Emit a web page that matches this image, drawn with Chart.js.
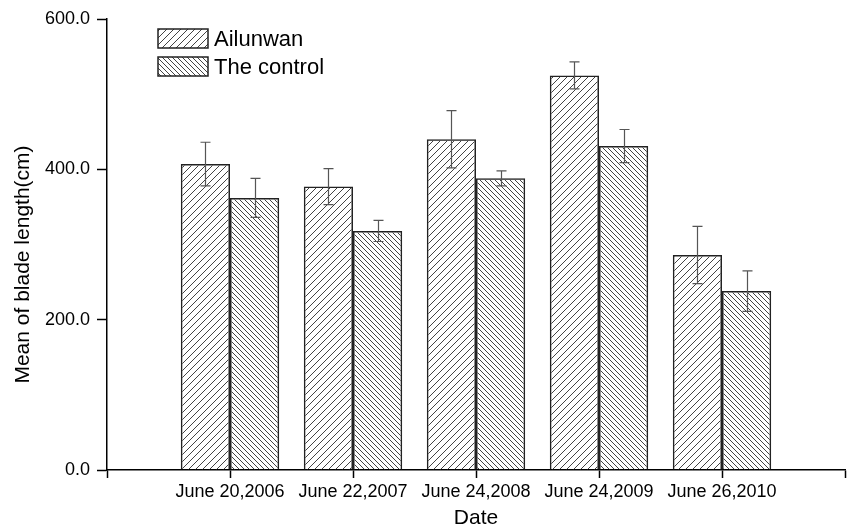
<!DOCTYPE html>
<html>
<head>
<meta charset="utf-8">
<script src="https://cdn.jsdelivr.net/npm/chart.js@4/dist/chart.umd.min.js"></script>
<style>
  html, body { margin: 0; padding: 0; background: #fff; }
  #wrap { width: 849px; height: 529px; }
</style>
</head>
<body>
<div id="wrap"><canvas id="c" width="849" height="529"></canvas></div>
<script>
// Sampling dates
const categories = ['June 20,2006', 'June 22,2007', 'June 24,2008', 'June 24,2009', 'June 26,2010'];

// Mean blade length (cm) and error half-widths
const ailunwan = [407, 377, 440, 525, 286];
const ailunwanErr = [29, 24, 38, 18, 38];
const control = [362, 318, 388, 431, 238];
const controlErr = [26, 14, 10, 22, 27];

const seriesNames = ['Ailunwan', 'The control'];
const yTicks = [0, 200, 400, 600];
const yTitle = 'Mean of blade length(cm)';

const FONT = "'Liberation Sans', Arial, Helvetica, sans-serif";

// Hatch fill: diagonal lines, direction +1 for "/" and -1 for "\"
function hatch(size, dir, color, width) {
  const c = document.createElement('canvas');
  c.width = size; c.height = size;
  const g = c.getContext('2d');
  g.strokeStyle = color;
  g.lineWidth = width;
  g.beginPath();
  if (dir > 0) {
    g.moveTo(-1, size + 1); g.lineTo(size + 1, -1);
    g.moveTo(-1, 1); g.lineTo(1, -1);
    g.moveTo(size - 1, size + 1); g.lineTo(size + 1, size - 1);
  } else {
    g.moveTo(-1, -1); g.lineTo(size + 1, size + 1);
    g.moveTo(size - 1, -1); g.lineTo(size + 1, 1);
    g.moveTo(-1, size - 1); g.lineTo(1, size + 1);
  }
  g.stroke();
  return document.getElementById('c').getContext('2d').createPattern(c, 'repeat');
}

const fillA = hatch(7, 1, '#444', 1);
const fillB = hatch(5, -1, '#444', 1);

// Empty slots at both ends of the date axis
const labels = [''].concat(categories, ['']);
const pad = arr => [null].concat(arr, [null]);
const errors = [pad(ailunwanErr), pad(controlErr)];

// Vertical error bars with caps
const errorBars = {
  id: 'errorBars',
  afterDatasetsDraw(chart) {
    const ctx = chart.ctx;
    const y = chart.scales.y;
    ctx.save();
    ctx.strokeStyle = '#555';
    ctx.lineWidth = 1.2;
    chart.data.datasets.forEach((ds, di) => {
      const meta = chart.getDatasetMeta(di);
      meta.data.forEach((bar, i) => {
        const v = ds.data[i];
        const e = errors[di][i];
        if (v == null || e == null) return;
        const x = Math.round(bar.x) + 0.5;
        const yt = y.getPixelForValue(v + e);
        const yb = y.getPixelForValue(v - e);
        const cap = 5;
        ctx.beginPath();
        ctx.moveTo(x, yt); ctx.lineTo(x, yb);
        ctx.moveTo(x - cap, yt); ctx.lineTo(x + cap, yt);
        ctx.moveTo(x - cap, yb); ctx.lineTo(x + cap, yb);
        ctx.stroke();
      });
    });
    ctx.restore();
  }
};

// Legend drawn inside the plot area, top-left
const insideLegend = {
  id: 'insideLegend',
  afterDraw(chart) {
    const ctx = chart.ctx;
    const a = chart.chartArea;
    const x0 = a.left + 51, y0 = a.top + 10;
    const bw = 50, bh = 19, gap = 28;
    ctx.save();
    chart.data.datasets.forEach((ds, i) => {
      const yy = y0 + i * gap;
      ctx.fillStyle = '#fff';
      ctx.fillRect(x0, yy, bw, bh);
      ctx.fillStyle = ds.backgroundColor;
      ctx.fillRect(x0, yy, bw, bh);
      ctx.strokeStyle = '#222';
      ctx.lineWidth = 1.5;
      ctx.strokeRect(x0, yy, bw, bh);
      ctx.fillStyle = '#000';
      ctx.font = '22px ' + FONT;
      ctx.textBaseline = 'middle';
      ctx.textAlign = 'left';
      ctx.fillText(ds.label, x0 + bw + 6, yy + bh / 2 + 1);
    });
    ctx.restore();
  }
};

// Rotated value-axis title, set a little below the plot's middle
const yAxisTitle = {
  id: 'yAxisTitle',
  afterDraw(chart) {
    const ctx = chart.ctx;
    const a = chart.chartArea;
    ctx.save();
    ctx.translate(23, (a.top + a.bottom) / 2 + 20);
    ctx.rotate(-Math.PI / 2);
    ctx.fillStyle = '#000';
    ctx.font = '21px ' + FONT;
    ctx.textAlign = 'center';
    ctx.textBaseline = 'middle';
    ctx.fillText(yTitle, 0, 0);
    ctx.restore();
  }
};

new Chart(document.getElementById('c'), {
  type: 'bar',
  data: {
    labels: labels,
    datasets: [
      { label: seriesNames[0], data: pad(ailunwan), backgroundColor: fillA,
        borderColor: '#222', borderWidth: 1.5 },
      { label: seriesNames[1], data: pad(control), backgroundColor: fillB,
        borderColor: '#222', borderWidth: 1.5 }
    ]
  },
  options: {
    responsive: false,
    animation: false,
    devicePixelRatio: 1,
    layout: { padding: { top: 19, right: 4, left: 0, bottom: 0 } },
    datasets: { bar: { categoryPercentage: 0.8, barPercentage: 1.0 } },
    plugins: {
      legend: { display: false },
      tooltip: { enabled: false }
    },
    scales: {
      x: {
        type: 'category',
        offset: false,
        grid: { offset: false, drawOnChartArea: false, drawTicks: true, tickLength: 8,
                color: '#000', tickWidth: 1.5 },
        border: { display: true, color: '#000', width: 1.5 },
        ticks: { color: '#000', font: { family: FONT, size: 18 }, padding: 3,
                 autoSkip: false, maxRotation: 0 },
        title: { display: true, text: 'Date', color: '#000',
                 font: { family: FONT, size: 21, lineHeight: 1 }, padding: { top: 0, bottom: 0 } },
        afterFit(s) { s.height = 59; }
      },
      y: {
        min: 0, max: 600,
        afterBuildTicks(s) { s.ticks = yTicks.map(v => ({ value: v })); },
        grid: { drawOnChartArea: false, drawTicks: true, tickLength: 10,
                color: '#000', tickWidth: 1.5 },
        border: { display: true, color: '#000', width: 1.5 },
        ticks: { color: '#000', font: { family: FONT, size: 18 }, padding: 7,
                 callback: v => Number(v).toFixed(1) },
        title: { display: false },
        afterFit(s) { s.width = 107; }
      }
    }
  },
  plugins: [errorBars, insideLegend, yAxisTitle]
});
</script>
</body>
</html>
